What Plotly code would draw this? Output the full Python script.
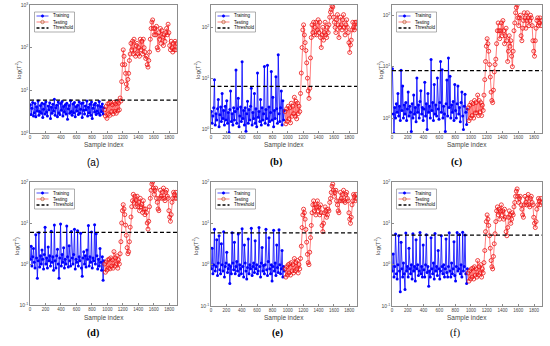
import numpy as np
import plotly.graph_objects as go

W, H = 550, 346
N_SAMPLES = 1900

# sample indices (every 10th sample shown)
train_x = np.arange(5, 960, 10)
test_x = np.arange(965, 1900, 10)

x_ticks = [0, 200, 400, 600, 800, 1000, 1200, 1400, 1600, 1800]

# ---- panel (a) ----
train_a = [4.6, 2.7, 3.8, 5.2, 2.5, 3.0, 4.9, 2.4, 4.1, 3.3, 5.6, 2.6, 3.2, 4.4, 2.9, 5.0,
           2.3, 3.6, 4.8, 2.8, 5.4, 3.1, 2.5, 4.3, 3.5, 5.1, 2.2, 4.0, 2.9, 4.7, 3.3, 6.2,
           2.6, 3.9, 4.5, 2.4, 5.3, 3.0, 2.7, 4.9, 3.4, 5.5, 2.5, 4.2, 3.1, 4.6, 2.8, 5.0,
           2.1, 3.7, 4.4, 2.9, 5.7, 3.2, 2.6, 4.8, 3.0, 5.2, 2.4, 4.1, 3.3, 4.5, 2.7, 5.4,
           2.9, 3.6, 4.9, 2.3, 5.1, 3.4, 2.8, 4.3, 3.5, 5.6, 2.5, 4.0, 3.0, 4.7, 2.6, 5.3,
           2.2, 3.8, 4.6, 3.1, 5.0, 2.7, 3.3, 4.4, 2.9, 5.5, 2.6, 4.2, 3.2, 4.8, 2.8, 3.9]
test_a = [3.5, 2.5, 4.2, 2.2, 4.8, 2.8, 5.0, 2.6, 5.2, 3.2,
          4.6, 2.8, 5.2, 3.2, 4.8, 2.9, 5.5, 3.3, 5.0, 3.5,
          6.6, 5.6, 16, 40, 89, 63, 40, 25, 14, 11,
          18, 25, 50, 71, 126, 89, 141, 71, 158, 89,
          63, 112, 126, 71, 100, 63, 158, 89, 141, 71,
          158, 100, 79, 56, 63, 40, 35, 50, 79, 158,
          282, 398, 447, 282, 200, 282, 200, 316, 100, 89,
          224, 158, 282, 126, 251, 178, 112, 200, 141, 224,
          282, 200, 355, 224, 112, 89, 141, 100, 79, 126,
          89, 141, 89, 126]
thr_a = 5.9

# ---- panel (b) ----
train_b = [2.2, 1.3, 1.8, 2.6, 9.3, 1.2, 2.0, 1.5, 2.5, 3.8, 1.1, 1.9, 2.7, 1.4, 5.0, 1.6,
           2.3, 1.2, 2.8, 1.5, 3.6, 1.3, 2.1, 0.85, 2.4, 5.6, 1.4, 2.0, 1.2, 2.6, 1.5, 2.2,
           14.5, 1.3, 2.5, 4.0, 1.1, 1.8, 2.7, 1.4, 21, 1.6, 2.3, 1.2, 2.6, 0.9, 2.0, 3.5,
           1.3, 2.4, 1.5, 2.8, 6.3, 1.2, 2.1, 1.6, 5.0, 1.3, 2.5, 1.1, 12.6, 1.7, 2.2, 1.4,
           3.8, 1.2, 2.6, 1.5, 2.0, 17, 1.3, 2.4, 1.6, 18, 1.2, 2.7, 1.4, 2.1, 13.5, 1.5,
           4.2, 1.1, 2.3, 1.6, 10.7, 2.5, 1.3, 29, 2.0, 1.4, 2.6, 5.6, 1.2, 3.6, 1.5, 2.3]
test_b = [2.2, 1.26, 2.5, 1.41, 2.8, 1.58, 2.6, 1.32, 3.2, 1.78,
          2.8, 2.0, 4.2, 1.78, 3.5, 1.58, 3.2, 2.0, 2.8, 2.2,
          5.0, 12.6, 40, 89, 112, 71, 50, 35, 20, 10,
          5.6, 4.0, 6.3, 25, 63, 112, 79, 126, 71, 100,
          126, 71, 89, 141, 79, 126, 63, 40, 71, 100,
          56, 79, 126, 71, 63, 100, 79, 112, 158, 200,
          224, 263, 251, 158, 126, 100, 79, 141, 178, 112,
          63, 100, 158, 112, 89, 141, 178, 100, 71, 112,
          141, 100, 79, 50, 32, 45, 56, 89, 126, 100,
          89, 126, 100, 126]
thr_b = 6.9

# ---- panel (c) ----
train_c = [9.1, 1.2, 0.5, 1.6, 1.0, 1.9, 1.3, 3.0, 1.1, 1.7, 0.9, 8.5, 1.4, 4.2, 1.0, 1.8,
           1.2, 2.0, 0.9, 1.5, 3.2, 1.1, 1.7, 1.3, 0.55, 1.9, 1.0, 2.8, 1.2, 1.6, 0.85, 6.0,
           1.3, 1.8, 1.0, 2.1, 3.4, 1.2, 1.6, 0.9, 1.5, 5.0, 1.1, 1.9, 0.6, 3.0, 1.3, 1.7,
           1.0, 13.8, 1.4, 2.0, 0.9, 4.5, 1.2, 1.8, 1.1, 6.0, 1.5, 0.95, 2.0, 12.6, 1.3, 8.7,
           1.0, 1.7, 1.2, 0.55, 1.9, 5.5, 1.1, 14.8, 1.6, 6.5, 1.0, 1.8, 1.3, 2.1, 0.9, 4.5,
           1.4, 1.0, 1.9, 4.2, 1.2, 1.6, 0.85, 2.0, 3.2, 1.1, 0.6, 1.7, 2.9, 1.3, 0.75, 1.5]
test_c = [1.58, 0.89, 1.78, 1.0, 2.0, 1.12, 1.9, 1.0, 2.2, 1.26,
          2.0, 1.26, 2.8, 1.12, 2.2, 1.32, 2.0, 1.12, 1.78, 1.41,
          2.8, 5.6, 12.6, 25, 35, 28, 20, 11, 6.3, 3.2,
          2.2, 2.0, 3.5, 7.9, 11, 14, 28, 50, 71, 50,
          35, 50, 71, 40, 79, 50, 28, 40, 56, 32,
          12.6, 20, 40, 25, 32, 16, 10, 20, 50, 71,
          112, 141, 158, 89, 63, 89, 100, 40, 32, 56,
          79, 112, 89, 56, 79, 112, 89, 63, 79, 100,
          89, 63, 32, 20, 16, 32, 56, 79, 89, 63,
          71, 89, 63, 79]
thr_c = 8.4

# ---- panel (d) ----
train_d = [1.3, 2.7, 0.9, 1.5, 2.4, 1.1, 0.8, 5.2, 1.4, 0.45, 1.2, 5.8, 0.85, 1.6, 1.0, 2.2,
           1.3, 0.75, 1.7, 7.9, 1.0, 1.4, 0.8, 2.6, 1.2, 1.6, 0.9, 6.3, 1.1, 1.5, 0.7, 8.9,
           1.2, 0.8, 1.6, 2.3, 1.0, 0.45, 1.4, 9.5, 0.9, 1.7, 1.1, 2.5, 0.8, 1.3, 1.0, 8.5,
           1.5, 0.85, 2.8, 1.2, 0.9, 6.2, 1.4, 1.0, 1.7, 7.0, 0.75, 1.3, 1.1, 6.5, 0.9, 1.5,
           1.2, 5.6, 0.8, 0.5, 1.4, 2.0, 1.0, 1.6, 0.85, 2.2, 1.3, 8.7, 0.9, 1.5, 1.1, 6.0,
           0.8, 1.4, 1.2, 9.1, 1.0, 5.5, 1.6, 0.75, 1.3, 0.9, 2.4, 1.1, 0.7, 1.5, 0.4, 1.2]
test_d = [1.0, 0.63, 1.12, 0.71, 1.26, 0.79, 1.32, 0.76, 1.41, 0.89,
          1.26, 0.79, 2.0, 0.89, 1.41, 1.0, 1.58, 0.79, 1.26, 1.0,
          1.78, 3.5, 10, 20, 28, 22, 16, 8.9, 5.0, 2.5,
          1.78, 2.0, 3.5, 7.9, 14, 25, 35, 50, 32, 45,
          25, 35, 45, 25, 32, 20, 40, 25, 28, 18,
          35, 22, 16, 22, 18, 10, 7.1, 11, 25, 40,
          63, 89, 100, 71, 50, 63, 71, 40, 32, 22,
          20, 40, 63, 45, 40, 56, 71, 40, 35, 56,
          63, 45, 40, 20, 14, 11, 16, 32, 40, 56,
          50, 40, 56, 40]
thr_d = 5.9

# ---- panel (e) ----
train_e = [0.8, 2.5, 0.6, 1.0, 7.2, 0.7, 0.9, 4.0, 0.55, 1.1, 5.0, 0.75, 0.6, 3.2, 1.0, 0.7,
           6.3, 0.5, 0.9, 1.1, 2.0, 0.65, 0.8, 1.0, 0.35, 0.9, 0.6, 5.9, 1.1, 0.75, 3.5, 0.6,
           0.9, 1.2, 0.7, 5.5, 0.55, 1.0, 0.8, 0.6, 7.4, 0.9, 0.5, 3.0, 1.1, 0.7, 0.45, 0.85,
           4.2, 0.6, 1.0, 0.8, 7.6, 0.55, 0.9, 1.1, 0.65, 3.8, 0.8, 1.0, 0.6, 0.7, 7.9, 0.9,
           0.5, 1.1, 2.6, 0.7, 0.95, 0.6, 1.0, 7.2, 0.75, 0.55, 1.2, 4.5, 0.8, 0.6, 1.0, 0.4,
           0.9, 6.8, 0.7, 1.1, 0.55, 3.0, 0.85, 0.65, 7.0, 1.0, 0.6, 0.8, 2.2, 0.5, 0.9, 0.7]
test_e = [0.79, 0.5, 0.89, 0.56, 1.0, 0.63, 1.05, 0.56, 1.12, 0.71,
          1.0, 0.63, 1.41, 0.71, 1.12, 0.79, 1.26, 0.63, 1.0, 0.79,
          1.41, 2.8, 7.9, 16, 22, 18, 12.6, 7.1, 3.5, 1.78,
          1.12, 1.0, 2.0, 4.5, 8.9, 18, 28, 35, 20, 28,
          16, 25, 35, 20, 25, 16, 28, 18, 8.9, 6.3,
          10, 18, 25, 20, 14, 16, 22, 20, 32, 40,
          56, 79, 89, 63, 45, 56, 63, 35, 28, 20,
          18, 35, 56, 40, 35, 50, 63, 35, 32, 50,
          56, 40, 35, 18, 12.6, 10, 14, 28, 35, 50,
          45, 35, 50, 40]
thr_e = 5.9

# ---- panel (f) ----
train_f = [0.7, 1.8, 0.5, 0.9, 5.5, 0.6, 0.45, 1.0, 5.0, 0.7, 0.22, 3.5, 0.8, 0.5, 1.1, 0.6,
           0.25, 5.8, 0.7, 0.9, 0.5, 2.5, 0.8, 0.6, 1.0, 0.45, 5.6, 0.7, 0.9, 0.4, 4.0, 0.8,
           1.0, 0.55, 0.7, 6.0, 0.6, 0.9, 0.5, 3.0, 0.75, 0.5, 1.0, 5.3, 0.65, 0.9, 0.3, 0.7,
           0.5, 4.5, 0.8, 0.6, 1.1, 0.45, 5.7, 0.7, 0.9, 0.55, 2.2, 0.8, 0.45, 0.7, 5.0, 0.9,
           0.6, 1.0, 0.5, 0.8, 4.2, 0.65, 0.5, 0.9, 5.9, 0.7, 0.5, 1.1, 0.6, 0.8, 3.6, 0.55,
           0.4, 0.9, 6.0, 0.7, 0.8, 5.4, 0.6, 1.0, 0.5, 6.1, 0.7, 0.9, 5.2, 0.6, 0.35, 0.8]
test_f = [0.63, 0.4, 0.71, 0.45, 0.79, 0.5, 0.83, 0.45, 0.89, 0.56,
          0.79, 0.5, 1.26, 0.56, 0.89, 0.63, 1.0, 0.5, 0.79, 0.63,
          1.12, 2.2, 6.3, 11, 16, 12.6, 8.9, 5.0, 2.5, 1.26,
          0.89, 0.79, 1.58, 3.2, 5.6, 11, 20, 25, 16, 22,
          12.6, 20, 28, 16, 20, 12.6, 22, 14, 6.3, 5.0,
          7.9, 14, 20, 16, 10, 12.6, 18, 16, 25, 32,
          45, 60, 68, 45, 32, 40, 45, 28, 22, 16,
          14, 28, 45, 32, 28, 40, 50, 28, 25, 40,
          45, 32, 28, 14, 10, 7.9, 11, 22, 28, 40,
          35, 28, 40, 32]
thr_f = 5.2

panels = [
    dict(train=train_a, test=test_a, thr=thr_a, yr=[0, 3], yt=[0, 1, 2, 3],
         box=(30, 177, 5, 133), lab='(a)', labxy=(93, 162), labfont=('Liberation Sans', False),
         ylab=(18, 70), xlab=145),
    dict(train=train_b, test=test_b, thr=thr_b, yr=[-0.08, 2.44], yt=[0, 1, 2],
         box=(211, 357, 5, 133), lab='(b)', labxy=(276, 162), labfont=('Liberation Serif', True),
         ylab=(197, 70), xlab=145),
    dict(train=train_c, test=test_c, thr=thr_c, yr=[-0.29, 2.2], yt=[0, 1, 2],
         box=(392, 542, 5, 133), lab='(c)', labxy=(456, 162), labfont=('Liberation Serif', True),
         ylab=(380, 70), xlab=145),
    dict(train=train_d, test=test_d, thr=thr_d, yr=[-1, 2], yt=[-1, 0, 1, 2],
         box=(30, 177, 182, 305), lab='(d)', labxy=(93, 333), labfont=('Liberation Serif', True),
         ylab=(16, 246), xlab=318),
    dict(train=train_e, test=test_e, thr=thr_e, yr=[-1, 2], yt=[-1, 0, 1, 2],
         box=(211, 357, 182, 306), lab='(e)', labxy=(277, 333), labfont=('Liberation Serif', True),
         ylab=(195, 246), xlab=318),
    dict(train=train_f, test=test_f, thr=thr_f, yr=[-1, 2], yt=[-1, 0, 1, 2],
         box=(392, 542, 182, 306), lab='(f)', labxy=(455, 333), labfont=('Liberation Serif', False),
         ylab=(377, 246), xlab=318),
]

BLUE = 'rgb(0,0,255)'
RED = 'rgb(235,20,20)'
RED_L = 'rgb(255,70,70)'
AXC = 'rgb(140,140,140)'
TXC = 'rgb(70,70,70)'


def px(x):
    return x / W


def py(y):
    return 1 - y / H


fig = go.Figure()
layout = dict(width=W, height=H, margin=dict(l=0, r=0, t=0, b=0, autoexpand=False),
              paper_bgcolor='white', plot_bgcolor='white', showlegend=False,
              font=dict(family='Liberation Sans', color=TXC))
shapes, annotations = [], []

for i, p in enumerate(panels):
    k = '' if i == 0 else str(i + 1)
    xa, ya = 'x' + k, 'y' + k
    l, r, t, b = p['box']
    fig.add_trace(go.Scatter(x=train_x, y=p['train'], mode='lines+markers', xaxis=xa, yaxis=ya,
                             line=dict(color=BLUE, width=0.8),
                             marker=dict(symbol='circle', size=3, color=BLUE,
                                         line=dict(width=0)),
                             name='Training'))
    fig.add_trace(go.Scatter(x=test_x, y=p['test'], mode='lines+markers', xaxis=xa, yaxis=ya,
                             line=dict(color=RED_L, width=0.7),
                             marker=dict(symbol='circle-open', size=4, color=RED,
                                         line=dict(width=0.8, color=RED)),
                             name='Testing'))
    fig.add_trace(go.Scatter(x=[0, N_SAMPLES], y=[p['thr'], p['thr']], mode='lines',
                             xaxis=xa, yaxis=ya,
                             line=dict(color='black', width=1.3, dash='4px,2.5px'),
                             name='Threshold'))
    layout['xaxis' + k] = dict(domain=[px(l), px(r)], anchor=ya, range=[0, N_SAMPLES],
                               automargin=False,
                               tickvals=x_ticks, ticks='inside', ticklen=2, tickwidth=0.6,
                               tickcolor=AXC, showline=True, linecolor=AXC, linewidth=0.7,
                               mirror=True, showgrid=False, zeroline=False,
                               tickfont=dict(size=4.5, color=TXC))
    layout['yaxis' + k] = dict(domain=[py(b), py(t)], anchor=xa, type='log', range=p['yr'],
                               automargin=False,
                               tickvals=[10.0 ** e for e in p['yt']],
                               ticktext=['10<sup>%d</sup>' % e for e in p['yt']],
                               ticks='inside', ticklen=2, tickwidth=0.6, tickcolor=AXC,
                               showline=True, linecolor=AXC, linewidth=0.7, mirror=True,
                               showgrid=False, zeroline=False,
                               tickfont=dict(size=5, color=TXC))
    # axis titles
    annotations.append(dict(x=px((l + r) / 2), y=py(p['xlab']), xref='paper', yref='paper',
                            xanchor='center', yanchor='middle',
                            text='Sample index', showarrow=False,
                            font=dict(size=6.5, color=TXC)))
    annotations.append(dict(x=px(p['ylab'][0]), y=py(p['ylab'][1]), xref='paper', yref='paper',
                            xanchor='center', yanchor='middle',
                            text='log(T<sup>2</sup>)', textangle=-90, showarrow=False,
                            font=dict(size=6, color=TXC)))
    fam, bold = p['labfont']
    annotations.append(dict(x=px(p['labxy'][0]), y=py(p['labxy'][1]), xref='paper', yref='paper',
                            xanchor='center', yanchor='middle',
                            text=('<b>%s</b>' % p['lab']) if bold else p['lab'], showarrow=False,
                            font=dict(size=10, color='black', family=fam)))
    # legend box
    lx, ly = l + 4.5, t + 7
    lw, lh = 40, 20
    shapes.append(dict(type='rect', xref='paper', yref='paper', x0=px(lx), x1=px(lx + lw),
                       y0=py(ly), y1=py(ly + lh), line=dict(color='rgb(120,120,120)', width=0.6),
                       fillcolor='white', layer='above'))
    rows = [ly + 4, ly + 10, ly + 16]
    shapes.append(dict(type='line', xref='paper', yref='paper', x0=px(lx + 2), x1=px(lx + 14),
                       y0=py(rows[0]), y1=py(rows[0]), line=dict(color=BLUE, width=0.7)))
    shapes.append(dict(type='circle', xref='paper', yref='paper', x0=px(lx + 6.8), x1=px(lx + 9.2),
                       y0=py(rows[0] - 1.2), y1=py(rows[0] + 1.2), line=dict(color=BLUE, width=0.6),
                       fillcolor=BLUE))
    shapes.append(dict(type='line', xref='paper', yref='paper', x0=px(lx + 2), x1=px(lx + 14),
                       y0=py(rows[1]), y1=py(rows[1]), line=dict(color=RED_L, width=0.7)))
    shapes.append(dict(type='circle', xref='paper', yref='paper', x0=px(lx + 6.3), x1=px(lx + 9.7),
                       y0=py(rows[1] - 1.7), y1=py(rows[1] + 1.7),
                       line=dict(color='rgb(170,90,40)', width=0.7)))
    shapes.append(dict(type='line', xref='paper', yref='paper', x0=px(lx + 2), x1=px(lx + 14),
                       y0=py(rows[2]), y1=py(rows[2]), line=dict(color='black', width=1.3, dash='3px,2px')))
    for txt, ry in zip(['Training', 'Testing', 'Threshold'], rows):
        annotations.append(dict(x=px(lx + 16), y=py(ry), xref='paper', yref='paper', text=txt,
                                xanchor='left', yanchor='middle', showarrow=False,
                                font=dict(size=4.5, color='black')))

layout['shapes'] = shapes
layout['annotations'] = annotations
fig.update_layout(**layout)
fig.write_html('out.html', config={'displayModeBar': False},
               post_script="document.body.style.margin='0';document.body.style.padding='0';")
